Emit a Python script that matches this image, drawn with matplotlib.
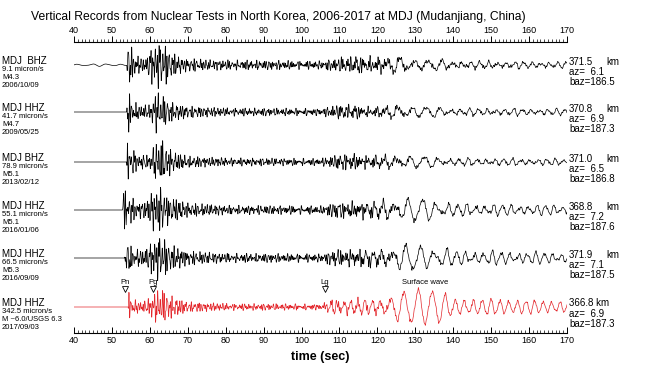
import numpy as np
import matplotlib.pyplot as plt
from matplotlib.ticker import MultipleLocator

plt.rcParams['font.family'] = ['Liberation Sans', 'DejaVu Sans']

# ---- values ----
# trace baselines, in pixel rows of the figure
BASELINES = [65, 112, 162, 210, 258, 307]
CHANNELS = ["MDJ  BHZ", "MDJ HHZ", "MDJ BHZ", "MDJ HHZ", "MDJ HHZ", "MDJ HHZ"]
PEAK_VEL = ["9.1 micron/s", "41.7 micron/s", "78.9 micron/s",
            "55.1 micron/s", "66.5 micron/s", "342.5 micron/s"]
MAGS = ["M4.3", "M4.7", "M5.1", "M5.1", "M5.3", "M ~6.0/USGS 6.3"]
DATES = ["2006/10/09", "2009/05/25", "2013/02/12",
         "2016/01/06", "2016/09/09", "2017/09/03"]
DIST = ["371.5", "370.8", "371.0", "368.8", "371.9", "366.8"]
AZ = ["6.1", "6.9", "6.5", "7.2", "7.1", "6.9"]
BAZ = ["186.5", "187.3", "186.8", "187.6", "187.5", "187.3"]

# envelope of the short-period part (time s, half amplitude px)
HF_ENV = [
    [(40, 0), (53.9, 0), (54.1, 18), (55.5, 14), (57, 7), (59, 6), (60.5, 16), (62, 20),
     (64, 17), (66, 10), (69, 6), (75, 4.5), (90, 4), (105, 3.5), (110, 6), (115, 7),
     (120, 6), (123, 4), (130, 2), (170, 1)],
    [(40, 0), (53.9, 0), (54.1, 20), (55, 12), (57, 6), (60, 6), (61.5, 18), (63, 14),
     (66, 8), (70, 5), (80, 3.5), (105, 3), (108, 5), (112, 6), (118, 4), (124, 3),
     (130, 1.5), (170, 1)],
    [(40, 0), (53.9, 0), (54.1, 20), (55, 12), (57, 6), (60, 6), (61.5, 16), (63, 19),
     (66, 9), (70, 5), (80, 3.5), (105, 3), (108, 5), (112, 7), (118, 5), (124, 3),
     (130, 1.5), (170, 1)],
    [(40, 0), (52.8, 0), (53, 20), (54.5, 12), (57, 7), (59, 8), (61, 18), (63, 19),
     (65, 12), (70, 6), (80, 4), (105, 3.5), (108, 6), (112, 7), (118, 6), (122, 4),
     (128, 2), (170, 1)],
    [(40, 0), (53.3, 0), (53.5, 16), (55, 10), (57, 7), (59, 8), (61, 16), (62.5, 20),
     (65, 12), (70, 6), (80, 4), (105, 3.5), (108, 6), (112, 7), (118, 6), (122, 4),
     (128, 2), (170, 1)],
    [(40, 0), (54.3, 0), (54.5, 14), (55.5, 7), (57, 5), (59, 5), (61, 12), (63, 15),
     (66, 9), (70, 4.5), (80, 3), (105, 2.5), (108, 4), (115, 3.5), (122, 3), (126, 2),
     (170, 1)],
]
# envelope of the long-period part (Lg / surface waves)
LF_ENV = [
    [(40, 1.0), (53, 1.0), (55, 0), (105, 0), (112, 2), (120, 4), (126, 6), (134, 5),
     (140, 3), (170, 2.5)],
    [(40, 0), (105, 0), (112, 2), (122, 3), (127, 6), (133, 5), (138, 3), (170, 2.5)],
    [(40, 0), (105, 0), (112, 2), (122, 3.5), (127, 6), (133, 5), (138, 3), (170, 2.5)],
    [(40, 0), (105, 0), (112, 3), (120, 5), (124, 9), (130, 11), (135, 9), (140, 5),
     (170, 4)],
    [(40, 0), (105, 0), (112, 3), (120, 5), (124, 10), (130, 12), (135, 10), (140, 6),
     (170, 4.5)],
    [(40, 0), (105, 0), (108, 5), (115, 6), (122, 6), (125, 12), (128, 15), (132, 19),
     (135, 19), (137, 13), (140, 7), (150, 7), (160, 6), (170, 5)],
]
# period of the long-period part (time s, period s)
LF_PERIOD = [(40, 4), (105, 1.6), (120, 2.0), (124, 3.5), (130, 3.8), (136, 3.6),
             (140, 2.4), (170, 2.2)]
# how irregular the long-period part looks on each trace
LF_MIX = [1.0, 1.0, 1.0, 1.0, 1.0, 0.35]

PHASES = ["Pn", "Pg", "Lg"]
PHASE_T = [53.4, 60.8, 106.2]
HF_FREQS = [0.83, 1.21, 1.57, 1.94, 2.37, 2.91]

DT = 0.04
t = np.arange(40, 170 + DT, DT)


def knots(pairs):
    kx, ky = zip(*pairs)
    return np.interp(t, kx, ky)


period = knots(LF_PERIOD)
lf_phase = 2 * np.pi * np.cumsum(1.0 / period) * DT

fig = plt.figure(figsize=(6.49, 3.72), dpi=100)
W, H = 649, 372
ax = fig.add_axes([74 / W, 1 - 333 / H, (567 - 74) / W, (333 - 42) / H])
ax.set_xlim(40, 170)
ax.set_ylim(333, 42)

for i, base in enumerate(BASELINES):
    hf = sum(np.sin(2 * np.pi * f * t + 1.7 * (i + 1) * (k + 1))
             for k, f in enumerate(HF_FREQS))
    hf = np.clip(hf / 3.0, -1.2, 1.2)
    m = LF_MIX[i]
    lf = (np.sin(lf_phase + 0.9 * i) * (1 + 0.35 * m * np.sin(2 * np.pi * 0.09 * t + i))
          + 0.3 * m * np.sin(1.6 * lf_phase + 2.1 * i))
    sig = knots(HF_ENV[i]) * hf + knots(LF_ENV[i]) * lf / (1 + 0.2 * m)
    color = "#e3262b" if i == 5 else "black"
    ax.plot(t, base - sig, color=color, lw=0.5)

    fig.text(2 / W, 1 - (base - 4) / H, CHANNELS[i], fontsize=7, va="center")
    for j, s in enumerate([PEAK_VEL[i], MAGS[i], DATES[i]]):
        fig.text(2 / W, 1 - (base + 4.5 + 8.2 * j) / H, s, fontsize=5.5, va="center")
    if i == 5:
        fig.text(569 / W, 1 - (base - 4) / H, DIST[i] + " km", fontsize=7, va="center")
    else:
        fig.text(569 / W, 1 - (base - 3) / H, DIST[i], fontsize=7, va="center")
        fig.text(606 / W, 1 - (base - 3) / H, "km", fontsize=7, va="center")
    fig.text(569 / W, 1 - (base + 7) / H, "az=  " + AZ[i], fontsize=7, va="center")
    fig.text(569 / W, 1 - (base + 17) / H, "baz=" + BAZ[i], fontsize=7, va="center")

for name, tp in zip(PHASES, PHASE_T):
    ax.plot([tp], [289], marker="v", ms=4.5, mfc="white", mec="black", mew=0.6,
            clip_on=False)
    ax.text(tp, 282, name, fontsize=5.5, ha="center", va="center")
ax.text(132.6, 282, "Surface wave", fontsize=5.5, ha="center", va="center")

for side in ["left", "right", "top"]:
    ax.spines[side].set_visible(False)
ax.spines["bottom"].set_linewidth(0.8)
ax.set_yticks([])
ax.xaxis.set_major_locator(MultipleLocator(10))
ax.xaxis.set_minor_locator(MultipleLocator(1))
ax.tick_params(axis="x", which="major", direction="in", length=4.5, width=0.7,
               labelsize=6.5, pad=2.5)
ax.tick_params(axis="x", which="minor", direction="in", length=2.5, width=0.5)

top = ax.secondary_xaxis("top")
top.xaxis.set_major_locator(MultipleLocator(10))
top.xaxis.set_minor_locator(MultipleLocator(1))
top.spines["top"].set_linewidth(0.8)
top.tick_params(axis="x", which="major", direction="out", length=4.5, width=0.7,
                labelsize=6.5, pad=0.5)
top.tick_params(axis="x", which="minor", direction="out", length=2.5, width=0.5)

ax.set_xlabel("time (sec)", fontsize=9, fontweight="bold", labelpad=4)
fig.text(0.5 * (32 + 524) / W, 1 - 17 / H,
         "Vertical Records from Nuclear Tests in North Korea, 2006-2017 at MDJ (Mudanjiang, China)",
         fontsize=8.7, ha="center", va="center")

fig.savefig("out.png", dpi=100)
